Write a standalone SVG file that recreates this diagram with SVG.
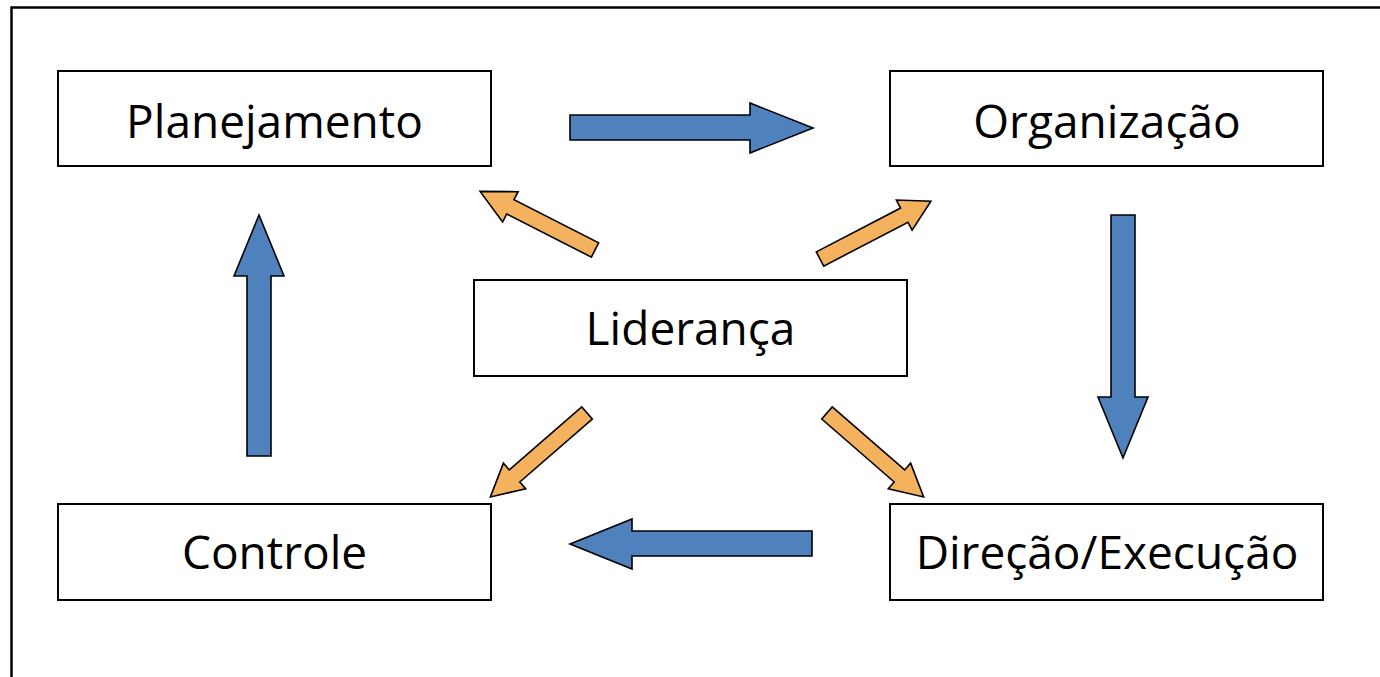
<svg xmlns="http://www.w3.org/2000/svg" width="1380" height="677" viewBox="0 0 1380 677">
<style>
.box{fill:#fff;stroke:#000;stroke-width:2}
.lbl{font-family:"Open Sans","Noto Sans",sans-serif;font-size:46px;fill:#000;text-anchor:middle}
.blue{fill:#4F81BD;stroke:#000;stroke-width:1.6;stroke-linejoin:miter}
.orange{fill:#F4B25F;stroke:#000;stroke-width:1.6;stroke-linejoin:miter}
</style>
<rect x="11.5" y="7.5" width="1400" height="700" fill="#fff" stroke="#000" stroke-width="2.5"/>
<g id="planejamento"><rect class="box" x="58" y="71" width="433" height="95"/><text class="lbl" x="274.5" y="138">Planejamento</text></g>
<g id="organizacao"><rect class="box" x="890" y="71" width="433" height="95"/><text class="lbl" x="1107" y="138">Organização</text></g>
<g id="lideranca"><rect class="box" x="474" y="280" width="433" height="96"/><text class="lbl" x="690.5" y="345">Liderança</text></g>
<g id="controle"><rect class="box" x="58" y="504" width="433" height="96"/><text class="lbl" x="274.5" y="569">Controle</text></g>
<g id="direcao"><rect class="box" x="890" y="504" width="433" height="96"/><text class="lbl" x="1107" y="569">Direção/Execução</text></g>
<g id="connectors">
<polygon class="blue" points="570,115 750,115 750,103 813,128 750,153 750,140 570,140"/>
<polygon class="blue" points="1111,215 1135,215 1135,397 1148,397 1123,458 1098,397 1111,397"/>
<polygon class="blue" points="812,531 632,531 632,519 570,544 632,569 632,556 812,556"/>
<polygon class="blue" points="247,456 247,276 234,276 259,215 284,276 271,276 271,456"/>
<g class="orange">
<polygon transform="translate(595,250) rotate(207)" points="0,-8 95,-8 95,-17 129,0 95,17 95,8 0,8"/>
<polygon transform="translate(820,259) rotate(-27.5)" points="0,-8 95,-8 95,-17 125,0 95,17 95,8 0,8"/>
<polygon transform="translate(587,413) rotate(139)" points="0,-8 96,-8 96,-17 128,0 96,17 96,8 0,8"/>
<polygon transform="translate(827,413) rotate(41)" points="0,-8 96,-8 96,-17 128,0 96,17 96,8 0,8"/>
</g>
</g>
</svg>
